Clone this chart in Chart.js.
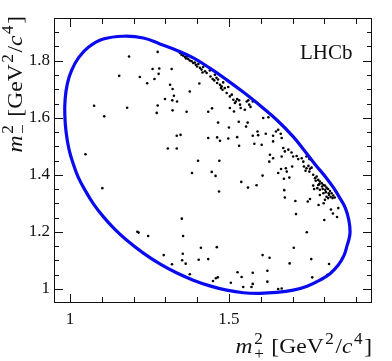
<!DOCTYPE html>
<html>
<head>
<meta charset="utf-8">
<script src="https://cdn.jsdelivr.net/npm/chart.js@4.4.1/dist/chart.umd.min.js"></script>
<style>
  html, body { margin: 0; padding: 0; background: #fff; }
  #plot { display: block; }
</style>
</head>
<body>
<canvas id="plot" width="392" height="361"></canvas>
<script>
// kinematic boundary (m+^2, m-^2)
const boundaryX = [1.597,1.650,1.702,1.736,1.770,1.807,1.830,1.849,1.866,1.877,1.881,1.878,1.872,1.862,1.844,1.818,1.786,1.746,1.702,1.650,
  1.597,1.545,1.493,1.440,1.388,1.335,1.283,1.230,1.178,1.140,1.105,1.074,1.047,1.026,1.010,0.997,0.988,0.984,0.985,0.992,
  1.006,1.028,1.060,1.105,1.168,1.231,1.283,1.335,1.388,1.440,1.493,1.545,1.597];
const boundaryY = [1.644,1.593,1.534,1.487,1.438,1.388,1.353,1.318,1.284,1.242,1.200,1.176,1.153,1.117,1.083,1.053,1.030,1.009,0.995,0.987,
  0.984,0.986,0.995,1.010,1.030,1.056,1.087,1.126,1.171,1.210,1.253,1.298,1.347,1.392,1.440,1.490,1.550,1.610,1.665,1.720,
  1.768,1.812,1.849,1.876,1.886,1.880,1.859,1.837,1.810,1.774,1.733,1.690,1.644];

// candidates
const candX = [
  1.186,1.276,1.260,1.279,1.266,1.243,1.220,1.155,1.076,1.108,1.180,1.276,1.273,1.049,1.281,
  1.102,1.212,1.216,1.246,
  1.384,1.446,1.458,1.469,1.539,1.560,1.587,1.352,1.356,1.295,1.321,1.355,1.353,1.364,1.412,1.462,
  1.405,1.435,1.377,1.450,1.459,1.465,1.506,1.527,1.540,1.575,1.545,1.571,1.575,
  1.606,1.655,1.664,1.679,1.682,1.699,1.673,1.690,1.674,1.676,1.709,1.711,1.748,1.755,1.782,1.798,
  1.821,1.827,1.840,1.800,1.844,1.745,1.704,1.606,1.628,1.691,1.759,1.815,1.621,1.621,1.655,1.666,
  1.762,1.810,
  1.736,1.744,1.750,1.755,1.760,1.741,1.753,1.765,1.771,1.776,1.781,1.786,1.792,1.797,1.802,1.807,
  1.812,1.818,1.823,1.828,1.833,1.773,1.784,1.793,1.803,1.814,1.820,1.807,1.797,1.786,1.778,1.765,
  1.768,1.786,1.802,1.812,1.781,1.795,1.805,1.815,1.826,
  1.346,1.351,1.356,1.362,1.365,1.369,1.372,1.377,1.383,1.388,1.393,1.396,1.400,1.404,1.409,1.414,
  1.417,1.419,1.425,1.430,1.440,1.442,1.449,1.454,1.456,1.461,1.463,1.466,1.472,1.475,1.477,1.480,
  1.482,1.487,1.493,1.498,1.503,1.509,1.514,1.519,1.522,1.526,1.532,1.535,1.537,1.550,1.556,1.561,
  1.564,1.568,1.575,
  1.320,1.315,1.323,1.377,1.407,1.299,1.322,1.337,1.327,1.323,1.367,1.435,1.447,1.503,1.516,1.466,
  1.500,1.531,1.559,1.554,1.590,1.575,1.592,1.336,1.348,1.435,1.463,1.472,1.498,1.526,1.532,1.580,
  1.308,1.336,1.403,1.470,
  1.608,1.624,1.616,1.603,1.639,1.648,1.655,1.663,1.666,1.639,1.671,1.676,1.687,1.697,1.702,1.713,
  1.718,1.729,1.734,1.744,1.753,1.629,1.639,1.666,1.627
];
const candY = [
  1.815,1.831,1.771,1.754,1.736,1.721,1.743,1.747,1.642,1.605,1.635,1.643,1.617,1.472,1.773,
  1.353,1.200,1.197,1.185,
  1.406,1.410,1.396,1.341,1.375,1.355,1.363,1.246,1.185,1.118,1.086,1.123,1.100,1.088,1.144,1.146,
  1.102,1.104,1.051,1.027,1.037,1.040,1.021,1.058,1.041,1.056,1.006,1.006,1.017,
  1.397,1.406,1.420,1.423,1.411,1.429,1.386,1.390,1.346,1.320,1.308,1.262,1.306,1.315,1.294,1.300,
  1.278,1.264,1.252,1.241,1.283,1.198,1.144,1.118,1.109,1.089,1.104,1.087,1.063,1.025,0.999,1.001,
  1.040,1.049,
  1.429,1.423,1.431,1.421,1.425,1.414,1.411,1.400,1.388,1.394,1.382,1.376,1.370,1.364,1.362,1.355,
  1.350,1.343,1.335,1.327,1.320,1.379,1.367,1.359,1.347,1.335,1.322,1.323,1.335,1.347,1.353,1.362,
  1.350,1.329,1.312,1.318,1.364,1.350,1.339,1.329,1.318,
  1.827,1.821,1.818,1.813,1.808,1.815,1.806,1.801,1.798,1.792,1.794,1.786,1.780,1.789,1.775,1.769,
  1.759,1.778,1.763,1.757,1.766,1.745,1.736,1.731,1.751,1.740,1.722,1.734,1.716,1.704,1.710,1.698,
  1.724,1.704,1.687,1.708,1.675,1.681,1.663,1.652,1.657,1.666,1.661,1.646,1.634,1.628,1.657,1.661,
  1.646,1.638,1.657,
  1.771,1.716,1.701,1.692,1.720,1.666,1.661,1.657,1.677,1.626,1.621,1.621,1.633,1.634,1.622,1.583,
  1.566,1.586,1.583,1.569,1.552,1.537,1.539,1.537,1.540,1.529,1.531,1.519,1.527,1.532,1.502,1.509,
  1.492,1.492,1.449,1.449,
  1.599,1.602,1.544,1.505,1.537,1.552,1.558,1.544,1.529,1.517,1.494,1.482,1.488,1.478,1.464,1.466,
  1.455,1.458,1.446,1.464,1.455,1.470,1.458,1.464,1.446
];

// axes
const xRange = [0.95, 1.95];
const yRange = [0.95, 1.95];
const xLabels = [1, 1.5];
const yLabels = [1, 1.2, 1.4, 1.6, 1.8];
const xMinor = [1.0,1.1,1.2,1.3,1.4,1.5,1.6,1.7,1.8,1.9];
const yMinor = [1.0,1.05,1.1,1.15,1.2,1.25,1.3,1.35,1.4,1.45,1.5,1.55,1.6,1.65,1.7,1.75,1.8,1.85,1.9];

const serif = '"Liberation Serif", "DejaVu Serif", serif';
const ink = '#111';

const xTitle = [{t:'m', it:true, sup:'2', sub:'+'}, {t:' [GeV'}, {sup:'2'}, {t:'/'}, {t:'c', it:true}, {sup:'4'}, {t:']'}];
const yTitle = [{t:'m', it:true, sup:'2', sub:'\u2212'}, {t:' [GeV'}, {sup:'2'}, {t:'/'}, {t:'c', it:true}, {sup:'4'}, {t:']'}];
const stretch = 1.07;

function rich(ctx, parts, x0, y0, size, draw) {
  let x = x0;
  for (const p of parts) {
    if (p.t) {
      ctx.font = (p.it ? 'italic ' : '') + size + 'px ' + serif;
      if (draw) ctx.fillText(p.t, x, y0);
      x += ctx.measureText(p.t).width;
    }
    if (p.sup || p.sub) {
      const s = Math.round(size * 0.72);
      ctx.font = s + 'px ' + serif;
      let w = 0;
      if (p.sup) { if (draw) ctx.fillText(p.sup, x + 1.5, y0 - size * 0.40); w = Math.max(w, ctx.measureText(p.sup).width); }
      if (p.sub) { if (draw) ctx.fillText(p.sub, x + 1.5, y0 + size * 0.25); w = Math.max(w, ctx.measureText(p.sub).width); }
      x += w + 3;
    }
  }
  return x - x0;
}

const frame = {
  id: 'frame',
  afterDraw(chart) {
    const {ctx, chartArea: a, scales: {x, y}} = chart;
    ctx.save();
    ctx.strokeStyle = ink;
    ctx.lineWidth = 1;
    ctx.strokeRect(a.left + 0.5, a.top + 0.5, a.right - a.left - 1, a.bottom - a.top - 1);
    ctx.beginPath();
    xMinor.forEach(v => {
      const px = Math.round(x.getPixelForValue(v)) + 0.5;
      const len = xLabels.includes(v) ? 9 : 6;
      ctx.moveTo(px, a.bottom); ctx.lineTo(px, a.bottom - len);
      ctx.moveTo(px, a.top); ctx.lineTo(px, a.top + len);
    });
    yMinor.forEach(v => {
      const py = Math.round(y.getPixelForValue(v)) + 0.5;
      const len = yLabels.some(l => Math.abs(l - v) < 1e-6) ? 9 : 5;
      ctx.moveTo(a.left, py); ctx.lineTo(a.left + len, py);
      ctx.moveTo(a.right, py); ctx.lineTo(a.right - len, py);
    });
    ctx.stroke();

    ctx.fillStyle = ink;
    ctx.textBaseline = 'alphabetic';
    ctx.textAlign = 'left';
    const ts = 22;
    const wx = rich(ctx, xTitle, 0, 0, ts, false) * stretch;
    ctx.save();
    ctx.translate(a.right - wx, 353);
    ctx.scale(stretch, 1);
    rich(ctx, xTitle, 0, 0, ts, true);
    ctx.restore();

    const wy = rich(ctx, yTitle, 0, 0, ts, false) * stretch;
    ctx.translate(22, a.top - 2 + wy);
    ctx.rotate(-Math.PI / 2);
    ctx.scale(stretch, 1);
    rich(ctx, yTitle, 0, 0, ts, true);
    ctx.restore();

    ctx.save();
    ctx.fillStyle = ink;
    ctx.font = '21px ' + serif;
    ctx.fillText('LHCb', 300, 59);
    ctx.restore();
  }
};

new Chart(document.getElementById('plot'), {
  type: 'scatter',
  data: {
    datasets: [
      {
        label: 'boundary',
        data: boundaryX.map((v, i) => ({x: v, y: boundaryY[i]})),
        showLine: true,
        tension: 0.4,
        borderColor: '#0a0af0',
        borderWidth: 3.2,
        pointRadius: 0,
        fill: false,
        order: 0
      },
      {
        label: 'candidates',
        data: candX.map((v, i) => ({x: v, y: candY[i]})),
        pointRadius: 1.3,
        pointBackgroundColor: '#000',
        pointBorderWidth: 0,
        order: 1
      }
    ]
  },
  options: {
    responsive: false,
    animation: false,
    devicePixelRatio: 1,
    events: [],
    layout: { padding: { top: 18, right: 20, left: 0, bottom: 0 } },
    plugins: { legend: { display: false }, tooltip: { enabled: false } },
    scales: {
      x: {
        type: 'linear', min: xRange[0], max: xRange[1],
        afterBuildTicks: s => { s.ticks = xLabels.map(v => ({value: v})); },
        afterFit: s => { s.height = 58; },
        grid: { display: false, drawTicks: false },
        border: { display: false },
        ticks: { color: ink, padding: 6, font: { family: serif, size: 17 }, callback: v => String(v) }
      },
      y: {
        type: 'linear', min: yRange[0], max: yRange[1],
        afterBuildTicks: s => { s.ticks = yLabels.map(v => ({value: v})); },
        afterFit: s => { s.width = 54; },
        grid: { display: false, drawTicks: false },
        border: { display: false },
        ticks: { color: ink, padding: 4, font: { family: serif, size: 17 }, callback: v => String(v) }
      }
    }
  },
  plugins: [frame]
});
</script>
</body>
</html>
